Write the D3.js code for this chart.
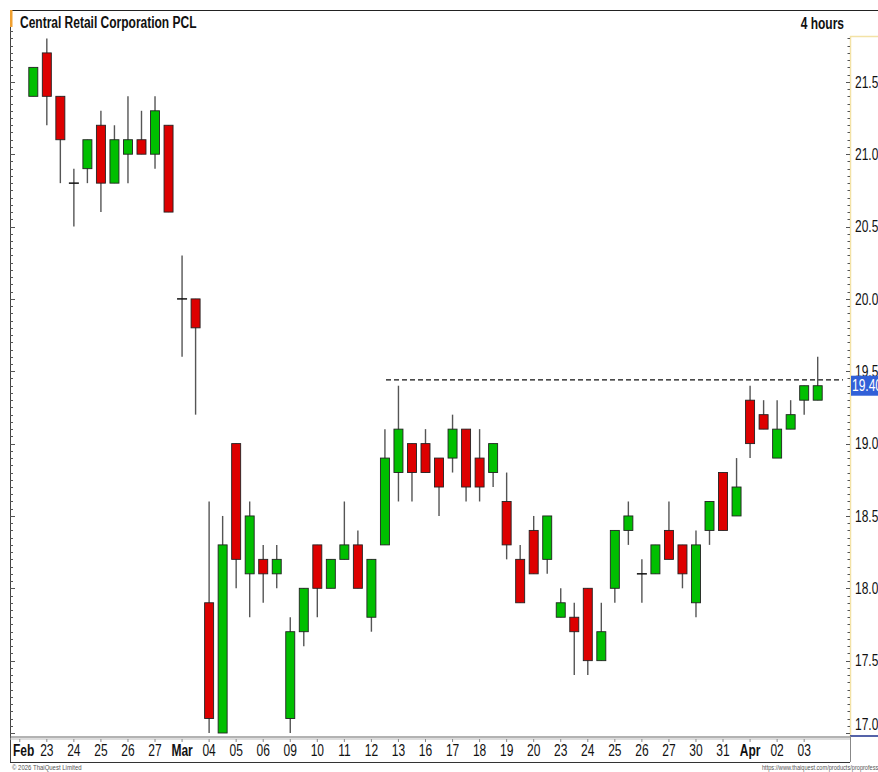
<!DOCTYPE html>
<html>
<head>
<meta charset="utf-8">
<script src="https://cdn.jsdelivr.net/npm/d3@7"></script>
<style>
  body { margin: 0; background: #fff; }
  svg { display: block; }
</style>
</head>
<body>
<div id="chart"></div>
<script>
// 4 hour candles, two sessions a day, first one is Feb 20 afternoon
var open  = [21.4,21.7,21.4,20.8,20.9,21.2,20.8,21.0,21.1,21.0,21.2,20.0,20.0,17.9,17.0,19.0,18.1,18.2,18.1,17.1,
             17.7,18.3,18.0,18.2,18.3,17.8,18.3,18.8,19.0,19.0,18.9,18.9,19.1,18.9,18.8,18.6,18.2,18.4,18.2,17.8,
             17.8,18.0,17.5,18.0,18.4,18.1,18.1,18.4,18.3,17.9,18.4,18.8,18.5,19.3,19.2,18.9,19.1,19.3,19.3];
var high  = [21.6,21.8,21.4,20.9,21.1,21.3,21.2,21.4,21.3,21.4,21.2,20.3,20.0,18.6,18.5,19.0,18.6,18.3,18.3,17.8,
             18.0,18.3,18.2,18.6,18.4,18.2,19.1,19.4,19.0,19.1,18.9,19.2,19.1,19.1,19.0,18.8,18.3,18.5,18.5,18.0,
             17.9,18.0,17.9,18.4,18.6,18.2,18.3,18.6,18.3,18.4,18.6,18.8,18.9,19.4,19.3,19.3,19.3,19.4,19.6];
var low   = [21.4,21.2,20.8,20.5,20.8,20.6,20.8,20.8,21.0,20.9,20.6,19.6,19.2,17.0,17.0,18.0,17.8,17.9,18.0,17.0,
             17.6,17.8,18.0,18.2,18.0,17.7,18.3,18.6,18.6,18.8,18.5,18.8,18.6,18.6,18.7,18.2,17.9,18.1,18.1,17.8,
             17.4,17.4,17.5,17.9,18.3,17.9,18.1,18.2,18.0,17.8,18.3,18.4,18.5,18.9,19.1,18.9,19.1,19.2,19.3];
var close = [21.6,21.4,21.1,20.8,21.1,20.8,21.1,21.1,21.0,21.3,20.6,20.0,19.8,17.1,18.3,18.2,18.5,18.1,18.2,17.7,
             18.0,18.0,18.2,18.3,18.0,18.2,18.9,19.1,18.8,18.8,18.7,19.1,18.7,18.7,19.0,18.3,17.9,18.1,18.5,17.9,
             17.7,17.5,17.7,18.4,18.5,18.1,18.3,18.2,18.1,18.3,18.6,18.4,18.7,19.0,19.1,19.1,19.2,19.4,19.4];

// one label per trading day, placed at that day's morning candle
var dayLabels = ['Feb','23','24','25','26','27','Mar','04','05','06','09','10','11','12','13',
                 '16','17','18','19','20','23','24','25','26','27','30','31','Apr','02','03'];
var priceTicks = [17.0,17.5,18.0,18.5,19.0,19.5,20.0,20.5,21.0,21.5];
var resistance = 19.44;
var lastPrice = 19.40;

var W = 878, H = 772;
var plotLeft = 10, plotTop = 10, plotRight = 850, plotBottom = 737;
var font = '"Liberation Sans", Arial, sans-serif';
var squeeze = 0.75;   // the source uses a narrow face

var x = d3.scaleLinear().domain([0, open.length - 1]).range([33.3, 817.7]);
var y = d3.scaleLinear().domain([17, 22]).range([733, 9.5]);

var svg = d3.select('#chart').append('svg')
    .attr('width', W).attr('height', H)
    .style('font-family', font);

svg.append('rect').attr('width', W).attr('height', H).attr('fill', '#fff');

svg.append('clipPath').attr('id', 'plot')
  .append('rect').attr('x', plotLeft).attr('y', plotTop)
    .attr('width', plotRight - plotLeft).attr('height', plotBottom - plotTop);

function label(g, tx, ty, str, size) {
  return g.append('text')
      .attr('transform', `translate(${tx},${ty}) scale(${squeeze},1)`)
      .attr('font-size', size)
      .attr('fill', '#111')
      .text(str);
}

// frame
svg.append('line').attr('x1', plotLeft).attr('x2', W).attr('y1', plotTop + 0.5).attr('y2', plotTop + 0.5)
    .attr('stroke', '#222').attr('stroke-width', 1.2);
svg.append('line').attr('x1', plotLeft + 0.5).attr('x2', plotLeft + 0.5).attr('y1', plotTop).attr('y2', 762)
    .attr('stroke', '#444');
svg.append('rect').attr('x', plotLeft).attr('y', plotTop).attr('width', 2.5).attr('height', 17)
    .attr('fill', '#f0a030');

// left edge ticks
var minor = d3.range(17, 22.01, 0.05);
svg.append('g').selectAll('line').data(minor.filter(d => y(d) > 28)).enter().append('line')
    .attr('x1', plotLeft).attr('x2', d => plotLeft + (Math.abs(d * 2 - Math.round(d * 2)) < 1e-6 ? 5 : 3))
    .attr('y1', d => Math.round(y(d)) + 0.5).attr('y2', d => Math.round(y(d)) + 0.5)
    .attr('stroke', '#555');

// price axis
svg.append('line').attr('x1', plotRight + 0.5).attr('x2', plotRight + 0.5).attr('y1', 36).attr('y2', plotBottom)
    .attr('stroke', '#f3e2a6').attr('stroke-width', 1.5);
svg.append('line').attr('x1', plotRight).attr('x2', W).attr('y1', 36.5).attr('y2', 36.5)
    .attr('stroke', '#f3e2a6').attr('stroke-width', 1.5);
svg.append('g').selectAll('line').data(minor.filter(d => y(d) > 38)).enter().append('line')
    .attr('x1', d => plotRight - (Math.abs(d * 2 - Math.round(d * 2)) < 1e-6 ? 4 : 2.5))
    .attr('x2', plotRight)
    .attr('y1', d => Math.round(y(d)) + 0.5).attr('y2', d => Math.round(y(d)) + 0.5)
    .attr('stroke', '#555');
var yAxis = svg.append('g');
priceTicks.forEach(p => {
  label(yAxis, 855, Math.min(y(p), 724), p.toFixed(1), 16).attr('dy', '0.36em');
});

// resistance line
svg.append('line')
    .attr('x1', 386).attr('x2', 843)
    .attr('y1', y(resistance)).attr('y2', y(resistance))
    .attr('stroke', '#111').attr('stroke-width', 1.2).attr('stroke-dasharray', '5,3');

// last price tag
svg.append('rect').attr('x', plotRight + 1).attr('y', y(lastPrice) - 10)
    .attr('width', W - plotRight).attr('height', 20).attr('fill', '#3160d8');
label(svg, 852, y(lastPrice), lastPrice.toFixed(2), 16).attr('dy', '0.36em').attr('fill', '#fff');

// candles
var candles = svg.append('g').attr('clip-path', 'url(#plot)')
  .selectAll('g').data(open.map((o, i) => ({i: i, o: o, h: high[i], l: low[i], c: close[i]})))
  .enter().append('g');

candles.append('line')
    .attr('x1', d => x(d.i)).attr('x2', d => x(d.i))
    .attr('y1', d => y(d.h)).attr('y2', d => y(d.l))
    .attr('stroke', '#555').attr('stroke-width', 1.4);

candles.filter(d => d.o !== d.c).append('rect')
    .attr('x', d => x(d.i) - 4.5)
    .attr('y', d => y(Math.max(d.o, d.c)))
    .attr('width', 9)
    .attr('height', d => Math.abs(y(d.o) - y(d.c)))
    .attr('fill', d => d.c > d.o ? '#00bf00' : '#dd0000')
    .attr('stroke', '#222').attr('stroke-width', 0.9);

candles.filter(d => d.o === d.c).append('line')
    .attr('x1', d => x(d.i) - 5).attr('x2', d => x(d.i) + 5)
    .attr('y1', d => y(d.o)).attr('y2', d => y(d.o))
    .attr('stroke', '#111').attr('stroke-width', 1.5);

// time axis
svg.append('line').attr('x1', plotLeft).attr('x2', plotRight).attr('y1', plotBottom).attr('y2', plotBottom)
    .attr('stroke', '#666').attr('stroke-width', 1);
svg.append('line').attr('x1', plotLeft).attr('x2', plotRight).attr('y1', plotBottom + 2).attr('y2', plotBottom + 2)
    .attr('stroke', '#bbb').attr('stroke-width', 1);
svg.append('line').attr('x1', plotRight).attr('x2', W).attr('y1', 736).attr('y2', 736)
    .attr('stroke', '#1c2f8c').attr('stroke-width', 1.5);
svg.append('line').attr('x1', plotRight + 0.5).attr('x2', plotRight + 0.5).attr('y1', 736).attr('y2', 762)
    .attr('stroke', '#888');
svg.append('line').attr('x1', plotLeft).attr('x2', plotRight).attr('y1', 762.5).attr('y2', 762.5)
    .attr('stroke', '#333').attr('stroke-width', 1);

var xAxis = svg.append('g');
dayLabels.forEach((d, i) => {
  var cx = x(2 * i - 1);
  xAxis.append('line').attr('x1', cx).attr('x2', cx)
      .attr('y1', plotBottom + 2).attr('y2', plotBottom + 5).attr('stroke', '#888');
  var t = label(xAxis, cx, 756, d, 16)
      .attr('text-anchor', 'middle')
      .attr('font-weight', isNaN(+d) ? 'bold' : 'normal');
  var half = t.node().getComputedTextLength() * squeeze / 2;
  if (cx - half < 13) t.attr('transform', `translate(${13 + half},756) scale(${squeeze},1)`);
});

// titles
label(svg, 20, 28, 'Central Retail Corporation PCL', 16).attr('font-weight', 'bold');
label(svg, 844, 29, '4 hours', 16).attr('font-weight', 'bold').attr('text-anchor', 'end');

// footer
label(svg, 12, 770, '\u00a9 2026 ThaiQuest Limited', 8).attr('fill', '#555');
label(svg, 762, 770, 'https://www.thaiquest.com/products/proprofessional', 7.5).attr('fill', '#555');
</script>
</body>
</html>
